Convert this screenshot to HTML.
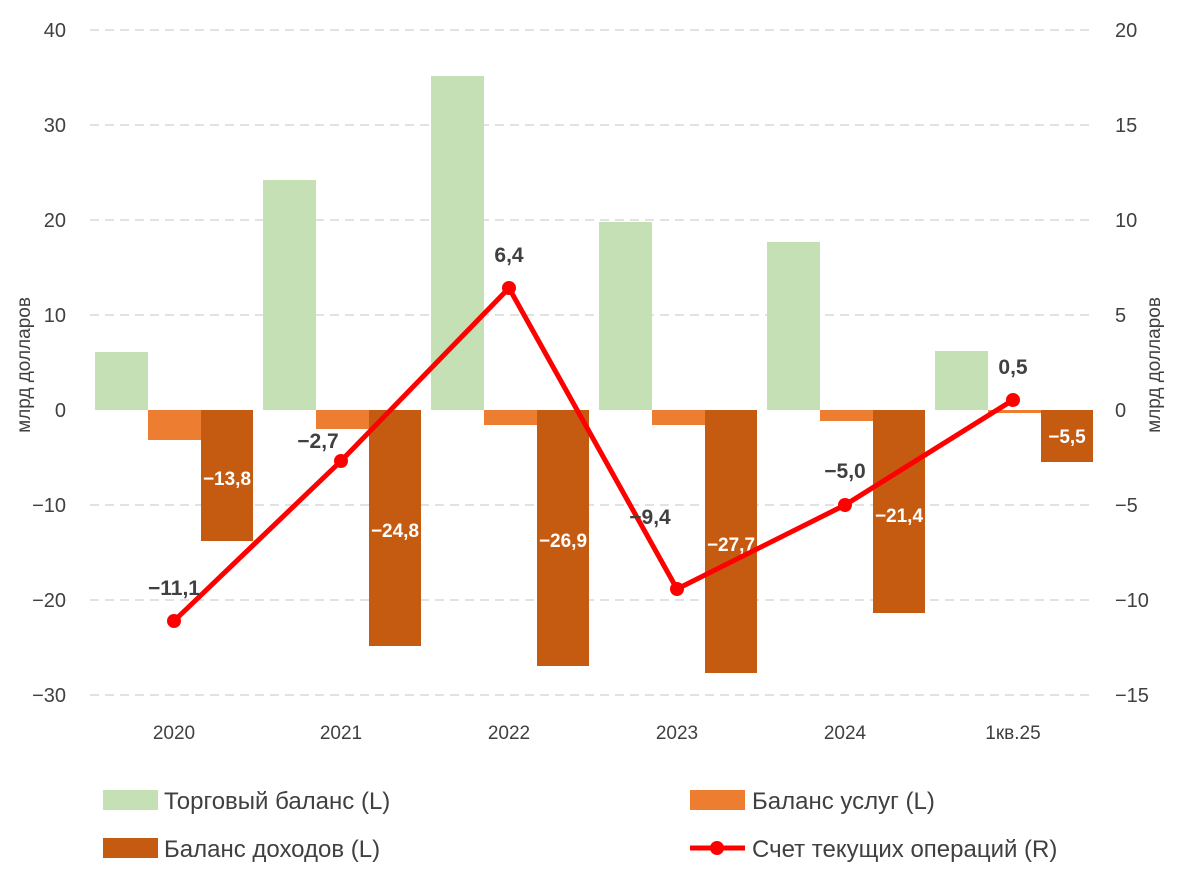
<!DOCTYPE html>
<html><head><meta charset="utf-8"><style>
body{margin:0;background:#fff;}
svg text{font-family:"Liberation Sans Narrow","Liberation Sans",sans-serif;}
</style></head><body>
<svg width="1182" height="872" viewBox="0 0 1182 872" xmlns="http://www.w3.org/2000/svg">
<g stroke="#d9d9d9" stroke-width="1.5" stroke-dasharray="9,6">
<line x1="90" x2="1095" y1="30" y2="30"/><line x1="90" x2="1095" y1="125" y2="125"/>
<line x1="90" x2="1095" y1="220" y2="220"/><line x1="90" x2="1095" y1="315" y2="315"/>
<line x1="90" x2="1095" y1="505" y2="505"/><line x1="90" x2="1095" y1="600" y2="600"/>
<line x1="90" x2="1095" y1="695" y2="695"/>
</g>
<g font-size="20" fill="#404040" text-anchor="end">
<text x="66" y="37">40</text><text x="66" y="132">30</text><text x="66" y="227">20</text><text x="66" y="322">10</text><text x="66" y="417">0</text><text x="66" y="512">−10</text><text x="66" y="607">−20</text><text x="66" y="702">−30</text>
</g>
<g font-size="20" fill="#404040" text-anchor="start">
<text x="1115" y="37">20</text><text x="1115" y="132">15</text><text x="1115" y="227">10</text><text x="1115" y="322">5</text><text x="1115" y="417">0</text><text x="1115" y="512">−5</text><text x="1115" y="607">−10</text><text x="1115" y="702">−15</text>
</g>
<text transform="translate(30,365) rotate(-90)" font-size="19" fill="#404040" text-anchor="middle">млрд долларов</text>
<text transform="translate(1160,365) rotate(-90)" font-size="19" fill="#404040" text-anchor="middle">млрд долларов</text>
<g fill="#c5e0b4">
<rect x="95" y="352" width="53" height="58"/><rect x="263" y="180" width="53" height="230"/>
<rect x="431" y="76" width="53" height="334"/><rect x="599" y="222" width="53" height="188"/>
<rect x="767" y="242" width="53" height="168"/><rect x="935" y="351" width="53" height="59"/>
</g>
<g fill="#ed7d31">
<rect x="148" y="410" width="53" height="30"/><rect x="316" y="410" width="53" height="19"/>
<rect x="484" y="410" width="53" height="15"/><rect x="652" y="410" width="53" height="15"/>
<rect x="820" y="410" width="53" height="11"/><rect x="988" y="410" width="53" height="3"/>
</g>
<g fill="#c55a11">
<rect x="201" y="410" width="52" height="131"/><rect x="369" y="410" width="52" height="236"/>
<rect x="537" y="410" width="52" height="256"/><rect x="705" y="410" width="52" height="263"/>
<rect x="873" y="410" width="52" height="203"/><rect x="1041" y="410" width="52" height="52"/>
</g>
<g font-size="19" font-weight="bold" fill="#fff" text-anchor="middle">
<text x="227" y="485">−13,8</text><text x="395" y="537">−24,8</text><text x="563" y="547">−26,9</text>
<text x="731" y="551">−27,7</text><text x="899" y="522">−21,4</text><text x="1067" y="443">−5,5</text>
</g>
<polyline points="174,621 341,461 509,288 677,589 845,505 1013,400" fill="none" stroke="#ff0000" stroke-width="5" stroke-linejoin="round"/>
<g fill="#ff0000">
<circle cx="174" cy="621" r="7"/><circle cx="341" cy="461" r="7"/><circle cx="509" cy="288" r="7"/>
<circle cx="677" cy="589" r="7"/><circle cx="845" cy="505" r="7"/><circle cx="1013" cy="400" r="7"/>
</g>
<g font-size="21" font-weight="bold" fill="#404040" text-anchor="middle">
<text x="174" y="595">−11,1</text><text x="318" y="448">−2,7</text><text x="509" y="262">6,4</text>
<text x="650" y="524">−9,4</text><text x="845" y="478">−5,0</text><text x="1013" y="374">0,5</text>
</g>
<g font-size="19" fill="#404040" text-anchor="middle">
<text x="174" y="739">2020</text><text x="341" y="739">2021</text><text x="509" y="739">2022</text>
<text x="677" y="739">2023</text><text x="845" y="739">2024</text><text x="1013" y="739">1кв.25</text>
</g>
<rect x="103" y="790" width="55" height="20" fill="#c5e0b4"/>
<rect x="690" y="790" width="55" height="20" fill="#ed7d31"/>
<rect x="103" y="838" width="55" height="20" fill="#c55a11"/>
<line x1="690" x2="745" y1="848" y2="848" stroke="#ff0000" stroke-width="5"/>
<circle cx="717" cy="848" r="7" fill="#ff0000"/>
<g font-size="24" fill="#404040">
<text x="164" y="809">Торговый баланс (L)</text><text x="752" y="809">Баланс услуг (L)</text>
<text x="164" y="857">Баланс доходов (L)</text><text x="752" y="857">Счет текущих операций (R)</text>
</g>
</svg>
</body></html>
